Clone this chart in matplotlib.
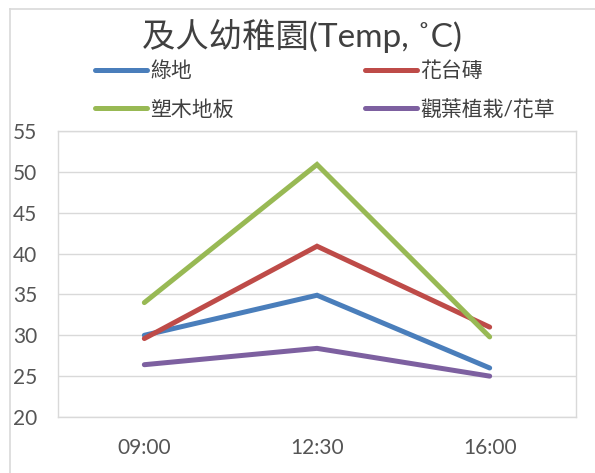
import matplotlib
matplotlib.use("Agg")
import matplotlib.pyplot as plt
from matplotlib.lines import Line2D

plt.rcParams['font.family'] = ['Lato', 'Noto Sans CJK TC', 'DejaVu Sans']

times = ["09:00", "12:30", "16:00"]
series_names = ["綠地", "花台磚", "塑木地板", "觀葉植栽/花草"]
green_space = [30.0, 34.9, 26.0]
planter_brick = [29.6, 40.9, 31.0]
plastic_wood = [34.0, 50.9, 29.8]
foliage_plants = [26.4, 28.4, 25.0]
series_values = [green_space, planter_brick, plastic_wood, foliage_plants]
colors = ["#4A7EBB", "#BE4B48", "#98B954", "#7D60A0"]
yticks = [20, 25, 30, 35, 40, 45, 50, 55]
title = "及人幼稚園(Temp, ˚C)"

fig = plt.figure(figsize=(5.95, 4.73), dpi=100)
ax = fig.add_axes([58 / 595, 56 / 473, 518 / 595, 286 / 473])

x = list(range(len(times)))
handles = []
for name, vals, c in zip(series_names, series_values, colors):
    ln, = ax.plot(x, vals, color=c, lw=3.6, solid_capstyle='round',
                  solid_joinstyle='miter', label=name, zorder=3)
    handles.append(ln)

ax.set_xlim(-0.5, len(times) - 0.5)
ax.set_ylim(yticks[0], yticks[-1])
ax.set_yticks(yticks)
ax.set_xticks(x)
ax.set_xticklabels(times)
ax.grid(axis='y', color='#d9d9d9', lw=1.0, zorder=0)
ax.tick_params(axis='both', length=0, labelsize=15, colors='#555555')
ax.tick_params(axis='y', pad=15)
ax.tick_params(axis='x', pad=15)
for s in ax.spines.values():
    s.set_color('#d9d9d9')
    s.set_linewidth(1.0)

# chart frame edges
fig.add_artist(Line2D([10 / 595, 1.0], [1 - 9 / 473, 1 - 9 / 473],
                      transform=fig.transFigure, color='#d9d9d9', lw=1.2))
fig.add_artist(Line2D([10 / 595, 10 / 595], [0, 1 - 9 / 473],
                      transform=fig.transFigure, color='#d9d9d9', lw=1.2))

fig.text(302 / 595, 1 - 36 / 473, title, ha='center', va='center',
         fontsize=24, color='#404040')

order = [0, 2, 1, 3]
leg = fig.legend([handles[i] for i in order], [series_names[i] for i in order],
                 ncol=2, loc='upper left', bbox_to_anchor=(95 / 595, 1 - 61 / 473),
                 frameon=False, fontsize=15, handlelength=2.5, handletextpad=0.15,
                 columnspacing=6.3, labelspacing=0.9, borderpad=0, borderaxespad=0)
for t in leg.get_texts():
    t.set_color('#404040')

fig.savefig("out.png", dpi=100, facecolor='white')
